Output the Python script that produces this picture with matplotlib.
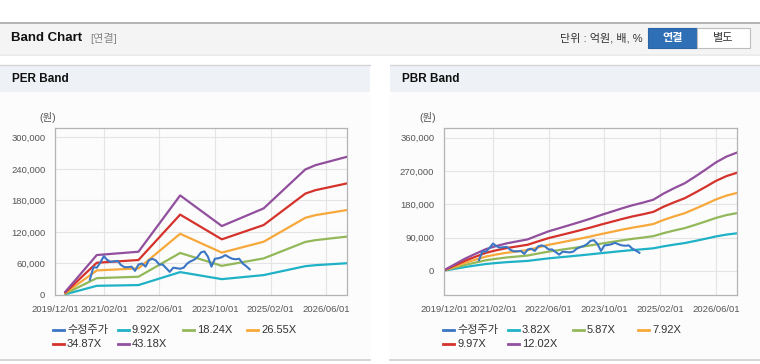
import matplotlib
matplotlib.use("Agg")
import matplotlib.pyplot as plt
from matplotlib.patches import Rectangle
from matplotlib.lines import Line2D
import pandas as pd

plt.rcParams['font.family'] = ['Liberation Sans', 'Noto Sans CJK KR', 'DejaVu Sans']

# ---------------- data ----------------
price_start = "2020-10-01"
price_values = [29000, 53000, 52000, 62000, 74000, 67000, 63000, 64000, 65000, 57000,
                53000, 53000, 54000, 46000, 58000, 60000, 54000, 66000, 69000, 66000,
                58000, 58000, 51000, 44000, 52000, 51000, 50000, 52000, 60000, 64000,
                67000, 72000, 81000, 83000, 73000, 54000, 69000, 70000, 72000, 76000,
                72000, 69000, 68000, 69000, 60000, 55000, 49000]

per_dates = ["2020-03-01", "2020-12-01", "2021-12-01", "2022-12-01", "2023-12-01",
             "2024-12-01", "2025-12-01", "2026-03-01", "2026-12-01"]
per_labels = ["9.92X", "18.24X", "26.55X", "34.87X", "43.18X"]
per_992 = [1400, 17500, 18900, 43600, 30200, 37900, 54900, 56800, 60500]
per_1824 = [2700, 32100, 34800, 80100, 55500, 69700, 101000, 104500, 111200]
per_2655 = [3900, 46800, 50700, 116600, 80700, 101400, 147000, 152100, 161800]
per_3487 = [5100, 61400, 66600, 153100, 106000, 133200, 193100, 199700, 212500]
per_4318 = [6300, 76100, 82400, 189600, 131300, 164900, 239100, 247300, 263200]

pbr_start = "2019-12-01"
pbr_labels = ["3.82X", "5.87X", "7.92X", "9.97X", "12.02X"]
pbr_382 = [600, 5500, 10500, 14700, 18700, 21400, 23700, 25400, 27100, 30600, 34000,
           36700, 39300, 42000, 44900, 47900, 50800, 53700, 56300, 58600, 61100, 66500,
           71100, 75300, 81000, 86900, 93200, 98200, 101600]
pbr_587 = [900, 8500, 16100, 22600, 28800, 32900, 36400, 39000, 41700, 47000, 52200,
           56400, 60500, 64600, 69000, 73700, 78100, 82500, 86600, 90100, 93900, 102100,
           109200, 115600, 124400, 133500, 143200, 150900, 156100]
pbr_792 = [1200, 11500, 21800, 30500, 38800, 44400, 49100, 52700, 56200, 63400, 70500,
           76000, 81600, 87100, 93100, 99400, 105300, 111300, 116800, 121600, 126700,
           137800, 147300, 156000, 167900, 180200, 193200, 203500, 210700]
pbr_997 = [1500, 14500, 27400, 38400, 48900, 55800, 61800, 66300, 70800, 79800, 88700,
           95700, 102700, 109700, 117100, 125100, 132600, 140100, 147100, 153000, 159500,
           173500, 185400, 196400, 211400, 226800, 243300, 256200, 265200]
pbr_1202 = [1800, 17400, 33100, 46300, 58900, 67300, 74500, 79900, 85300, 96200, 107000,
            115400, 123800, 132200, 141200, 150900, 159900, 168900, 177300, 184500, 192300,
            209100, 223600, 236800, 254800, 273500, 293300, 308900, 319700]

x_ticks = ["2019/12/01", "2021/02/01", "2022/06/01", "2023/10/01", "2025/02/01", "2026/06/01"]
per_yticks = [0, 60000, 120000, 180000, 240000, 300000]
pbr_yticks = [0, 90000, 180000, 270000, 360000]

# ---------------- styling ----------------
W, H = 760, 364
C_PRICE = "#3a76c4"
C_BANDS = ["#1fb2c7", "#93b85a", "#f7a83a", "#d4322b", "#914f9d"]

fig = plt.figure(figsize=(W / 100, H / 100), dpi=100)
fig.patch.set_facecolor("white")


def fx(x):
    return x / W


def fy(y):
    return 1 - y / H


def rect(x0, y0, x1, y1, fc, ec="none", lw=0, z=0):
    fig.add_artist(Rectangle((fx(x0), fy(y1)), fx(x1) - fx(x0), fy(y0) - fy(y1),
                             transform=fig.transFigure, facecolor=fc, edgecolor=ec,
                             linewidth=lw, zorder=z))


def hline(y, x0, x1, color, lw=1.0, z=1):
    fig.add_artist(Line2D([fx(x0), fx(x1)], [fy(y), fy(y)], transform=fig.transFigure,
                          color=color, lw=lw, zorder=z))


# top header
rect(0, 22, 760, 53, "#f4f4f4")
hline(22.5, 0, 760, "#a8a8a8", 1.2)
hline(53.5, 0, 760, "#d8d8d8", 1.0)
hline(55, 0, 760, "#ececec", 1.5)
fig.text(fx(11), fy(38), "Band Chart", fontsize=9.5, fontweight="bold", color="#111",
         va="center", ha="left")
fig.text(fx(90), fy(38.5), "[연결]", fontsize=8, color="#888", va="center", ha="left")
fig.text(fx(643), fy(38.5), "단위 : 억원, 배, %", fontsize=8, color="#333", va="center",
         ha="right")
rect(648, 28, 697, 48, "#2e6fb6", ec="#2a64a6", lw=0.8, z=2)
rect(697, 28, 750, 48, "#ffffff", ec="#bdbdbd", lw=0.8, z=2)
fig.text(fx(672.5), fy(38.5), "연결", fontsize=8, fontweight="bold", color="white",
         va="center", ha="center", zorder=3)
fig.text(fx(723.5), fy(38.5), "별도", fontsize=8, color="#333", va="center",
         ha="center", zorder=3)

# panels
panels = [(0, 370, "PER Band"), (390, 760, "PBR Band")]
for (px0, px1, title) in panels:
    rect(px0, 65, px1, 92, "#eef2f7")
    rect(px0, 92, px1, 359, "#fcfcfc")
    hline(65, px0, px1, "#d4d4d4", 1.0)
    hline(359.5, px0, px1, "#d0d0d0", 1.2)
    fig.text(fx(px0 + 12), fy(79.5), title, fontsize=8.5, fontweight="bold", color="#111",
             va="center", ha="left")


def setup_axes(left, right, ylim, yticks):
    ax = fig.add_axes([fx(left), fy(295), fx(right) - fx(left), fy(128) - fy(295)])
    ax.set_facecolor("#fcfcfc")
    ax.set_xlim(pd.Timestamp("2019-12-01"), pd.Timestamp("2026-12-01"))
    ax.set_ylim(*ylim)
    ax.set_yticks(yticks)
    ax.set_yticklabels([f"{v:,}" for v in yticks])
    xt = pd.to_datetime(x_ticks, format="%Y/%m/%d")
    ax.set_xticks(xt)
    ax.set_xticklabels(x_ticks)
    ax.tick_params(axis="both", length=0, labelsize=6.8, labelcolor="#555")
    ax.tick_params(axis="y", pad=7)
    ax.tick_params(axis="x", pad=7)
    ax.grid(True, color="#e4e4e4", lw=0.8)
    ax.set_axisbelow(True)
    for s in ax.spines.values():
        s.set_color("#b4b4b4")
        s.set_linewidth(0.9)
    return ax


price_dates = pd.date_range(price_start, periods=len(price_values), freq="MS")

# PER
ax1 = setup_axes(55, 347, (0, 318000), per_yticks)
pd_per = pd.to_datetime(per_dates)
for vals, c in zip([per_992, per_1824, per_2655, per_3487, per_4318], C_BANDS):
    ax1.plot(pd_per, vals, color=c, lw=1.6, solid_joinstyle="round")
ax1.plot(price_dates, price_values, color=C_PRICE, lw=1.5, zorder=5)

# PBR
ax2 = setup_axes(444, 737, (-65000, 386000), pbr_yticks)
pbr_dates = pd.date_range(pbr_start, periods=len(pbr_382), freq="3MS")
for vals, c in zip([pbr_382, pbr_587, pbr_792, pbr_997, pbr_1202], C_BANDS):
    ax2.plot(pbr_dates, vals, color=c, lw=1.6, solid_joinstyle="round")
ax2.plot(price_dates, price_values, color=C_PRICE, lw=1.5, zorder=5)

# unit labels
fig.text(fx(48), fy(118), "(원)", fontsize=7.5, color="#555", va="center", ha="center")
fig.text(fx(428), fy(118), "(원)", fontsize=7.5, color="#555", va="center", ha="center")


# legends (manual)
def legend_item(x, y, color, label):
    fig.add_artist(Line2D([fx(x), fx(x + 11)], [fy(y), fy(y)], transform=fig.transFigure,
                          color=color, lw=2.0))
    fig.text(fx(x + 14), fy(y), label, fontsize=8, color="#333", va="center", ha="left")


l_items = [("수정주가", C_PRICE)] + list(zip(per_labels, C_BANDS))
l_pos = [(53, 330), (118, 330), (183, 330), (247, 330), (53, 344), (118, 344)]
for (lab, c), (x, y) in zip(l_items, l_pos):
    legend_item(x, y, c, lab)

r_items = [("수정주가", C_PRICE)] + list(zip(pbr_labels, C_BANDS))
r_pos = [(443, 330), (508, 330), (573, 330), (638, 330), (443, 344), (508, 344)]
for (lab, c), (x, y) in zip(r_items, r_pos):
    legend_item(x, y, c, lab)

fig.savefig("out.png", dpi=100, facecolor=fig.get_facecolor())
